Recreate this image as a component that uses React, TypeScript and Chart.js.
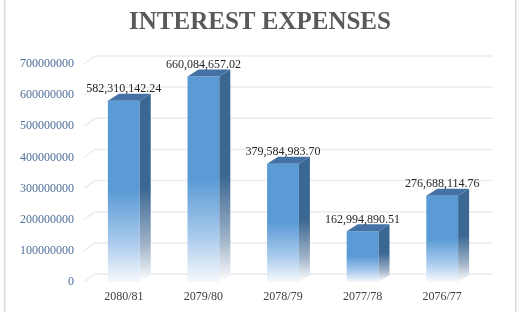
import React, { useEffect, useRef } from "react";
import { Chart, registerables } from "chart.js";

Chart.register(...registerables);

const title = "INTEREST EXPENSES";
const categories = ["2080/81", "2079/80", "2078/79", "2077/78", "2076/77"];
const values = [582310142.24, 660084657.02, 379584983.7, 162994890.51, 276688114.76];
const yTicks = [0, 100000000, 200000000, 300000000, 400000000, 500000000, 600000000, 700000000];

const SERIF = "'Times New Roman', 'Liberation Serif', serif";
const FRONT = "#5b9bd5";
const SIDE = "#3b6793";
const TOP = "#4472a6";
const GRID = "#ececec";
const BAR_DX = 11;
const BAR_DY = -7;
const WALL_DX = 11;
const WALL_DY = -8;

const fmt = new Intl.NumberFormat("en-US", { minimumFractionDigits: 2, maximumFractionDigits: 2 });

const threeD = {
  id: "threeD",
  beforeDraw(chart: any) {
    const ctx = chart.ctx;
    ctx.save();
    ctx.fillStyle = "#ffffff";
    ctx.fillRect(0, 0, chart.width, chart.height);
    ctx.strokeStyle = "#d9d9d9";
    ctx.lineWidth = 1.5;
    ctx.beginPath();
    ctx.moveTo(4.75, 0);
    ctx.lineTo(4.75, chart.height);
    ctx.moveTo(515.75, 0);
    ctx.lineTo(515.75, chart.height);
    ctx.stroke();
    ctx.fillStyle = "#595959";
    ctx.font = `bold 25px ${SERIF}`;
    ctx.textAlign = "center";
    ctx.textBaseline = "middle";
    ctx.fillText(title, 260, 23);
    ctx.restore();
  },
  beforeDatasetsDraw(chart: any) {
    const ctx = chart.ctx;
    const { left, right } = chart.chartArea;
    const y = chart.scales.y;
    ctx.save();
    ctx.strokeStyle = GRID;
    ctx.lineWidth = 1.5;
    for (const v of yTicks) {
      const py = y.getPixelForValue(v);
      ctx.beginPath();
      ctx.moveTo(left, py);
      ctx.lineTo(left + WALL_DX, py + WALL_DY);
      ctx.lineTo(right + WALL_DX, py + WALL_DY);
      ctx.stroke();
    }
    ctx.restore();
  },
  afterDatasetsDraw(chart: any) {
    const ctx = chart.ctx;
    const meta = chart.getDatasetMeta(0);
    const y = chart.scales.y;
    const base = y.getPixelForValue(0);
    ctx.save();
    meta.data.forEach((bar: any, i: number) => {
      const half = bar.width / 2;
      const x0 = bar.x - half;
      const x1 = bar.x + half;
      const top = bar.y;
      const sg = ctx.createLinearGradient(0, top + BAR_DY, 0, base);
      sg.addColorStop(0, SIDE);
      sg.addColorStop(0.5, SIDE);
      sg.addColorStop(0.8, "#9fb3c8");
      sg.addColorStop(1, "#ffffff");
      ctx.fillStyle = sg;
      ctx.beginPath();
      ctx.moveTo(x1, top);
      ctx.lineTo(x1 + BAR_DX, top + BAR_DY);
      ctx.lineTo(x1 + BAR_DX, base + BAR_DY);
      ctx.lineTo(x1, base);
      ctx.closePath();
      ctx.fill();
      ctx.fillStyle = TOP;
      ctx.beginPath();
      ctx.moveTo(x0, top);
      ctx.lineTo(x1, top);
      ctx.lineTo(x1 + BAR_DX, top + BAR_DY);
      ctx.lineTo(x0 + BAR_DX, top + BAR_DY);
      ctx.closePath();
      ctx.fill();
      ctx.fillStyle = "#262626";
      ctx.font = `12px ${SERIF}`;
      ctx.textAlign = "center";
      ctx.textBaseline = "middle";
      ctx.fillText(fmt.format(values[i]), bar.x, top - 11.5);
    });
    ctx.restore();
  },
};

export default function App() {
  const ref = useRef<HTMLCanvasElement>(null);
  useEffect(() => {
    if (!ref.current) return;
    const chart = new Chart(ref.current, {
      type: "bar",
      data: {
        labels: categories,
        datasets: [
          {
            data: values,
            backgroundColor: (c: any) => {
              const ch = c.chart;
              if (c.type !== "data" || !ch.chartArea) return FRONT;
              const ys = ch.scales.y;
              const top = ys.getPixelForValue(c.raw);
              const base = ys.getPixelForValue(0);
              const g = ch.ctx.createLinearGradient(0, top, 0, base);
              g.addColorStop(0, FRONT);
              g.addColorStop(0.5, FRONT);
              g.addColorStop(0.78, "#a9caec");
              g.addColorStop(1, "#f6f9fd");
              return g;
            },
            borderWidth: 0,
            categoryPercentage: 1,
            barPercentage: 0.4,
          },
        ],
      },
      options: {
        responsive: false,
        animation: false,
        devicePixelRatio: 1,
        layout: { padding: { left: 0, right: 39, top: 64, bottom: 0 } },
        plugins: { legend: { display: false }, title: { display: false }, tooltip: { enabled: false } },
        scales: {
          x: {
            grid: { display: false, drawTicks: false },
            border: { display: false },
            ticks: { color: "#404040", font: { family: SERIF, size: 12 }, padding: 8, maxRotation: 0 },
            afterFit: (s: any) => {
              s.height = 30;
            },
          },
          y: {
            min: 0,
            max: 700000000,
            grid: { display: false, drawTicks: false },
            border: { display: false },
            afterBuildTicks: (s: any) => {
              s.ticks = yTicks.map((v) => ({ value: v }));
            },
            ticks: {
              color: "#4f6f99",
              font: { family: SERIF, size: 12 },
              padding: 10,
              callback: (v: any) => String(v),
            },
            afterFit: (s: any) => {
              s.width = 84;
            },
          },
        },
      },
      plugins: [threeD],
    });
    return () => chart.destroy();
  }, []);
  return (
    <div style={{ position: "fixed", left: 0, top: 0, width: 521, height: 312 }}>
      <canvas ref={ref} width={521} height={312} style={{ display: "block" }} />
    </div>
  );
}
